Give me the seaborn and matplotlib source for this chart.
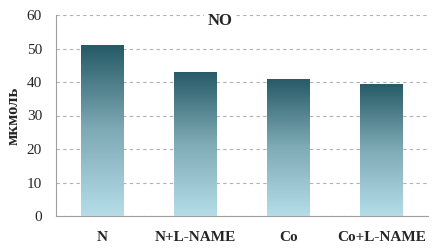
import numpy as np
import pandas as pd
import matplotlib
matplotlib.use("Agg")
import matplotlib.pyplot as plt
from matplotlib.colors import LinearSegmentedColormap
import seaborn as sns

categories = ["N", "N+L-NAME", "Co", "Co+L-NAME"]
values = [51, 43, 41, 39.5]
yticks = [0, 10, 20, 30, 40, 50, 60]

sns.set_style("white")
plt.rcParams['font.family'] = ['Liberation Serif', 'DejaVu Serif']

fig = plt.figure(figsize=(4.41, 2.48), dpi=100)
ax = fig.add_axes([56/441, 1 - 216/248, (428-56)/441, (216-15)/248])

df = pd.DataFrame({"cat": categories, "val": values})
sns.barplot(data=df, x="cat", y="val", ax=ax, width=0.46, color="#6a9aa5", edgecolor="none")

cmap = LinearSegmentedColormap.from_list("g", ["#b4dde8", "#7fabb6", "#255a66"])
grad = np.linspace(0, 1, 256).reshape(-1, 1)
for p in ax.patches:
    x0, y0 = p.get_x(), p.get_y()
    w, h = p.get_width(), p.get_height()
    im = ax.imshow(grad, cmap=cmap, origin="lower", aspect="auto",
                   extent=[x0, x0 + w, y0, y0 + h], zorder=3)
    im.set_clip_path(p)
    p.set_facecolor("none")

ax.set_xlim(-0.5, 3.5)
ax.set_ylim(0, 60)
ax.set_yticks(yticks)
ax.yaxis.grid(True, linestyle=(0, (3, 3)), color="#b0b0b0", linewidth=0.8)
ax.set_axisbelow(True)
for s in ["top", "right"]:
    ax.spines[s].set_visible(False)
for s in ["left", "bottom"]:
    ax.spines[s].set_color("#a0a0a0")
    ax.spines[s].set_linewidth(0.8)

ax.set_xticks([0, 1, 2, 3])
ax.set_xticklabels(categories, fontsize=11, fontweight="bold")
ax.tick_params(axis="x", length=0, pad=11)
ax.set_xticks([0.5, 1.5, 2.5, 3.5], minor=True)
ax.tick_params(axis="x", which="minor", length=4, color="#a0a0a0", direction="out")
ax.tick_params(axis="y", length=3, color="#a0a0a0", labelsize=11, pad=7)
ax.set_xlabel("")
ax.set_ylabel("мкмоль", fontsize=12, fontweight="bold", labelpad=4)
ax.set_xlim(-0.5, 3.5)

ax.text(0.44, 0.97, "NO", transform=ax.transAxes, ha="center", va="center",
        fontsize=12, fontweight="bold",
        bbox=dict(facecolor="white", edgecolor="none", pad=2), zorder=5)

fig.savefig("out.png", dpi=100)
